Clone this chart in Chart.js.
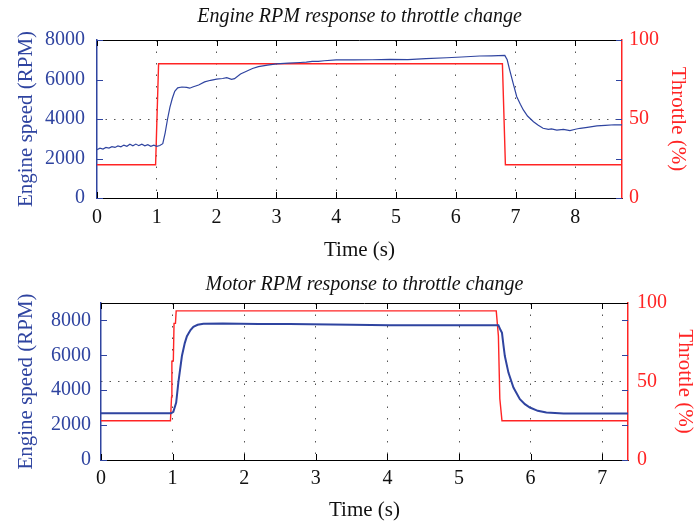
<!DOCTYPE html>
<html>
<head>
<meta charset="utf-8">
<script src="https://cdn.jsdelivr.net/npm/chart.js@4.4.1/dist/chart.umd.min.js"></script>
<style>
  html, body { margin: 0; padding: 0; background: #fff; overflow: hidden; }
  body { width: 694px; height: 521px; position: relative; }
  .box { position: absolute; left: 0; }
</style>
</head>
<body>
<div class="box" style="top:0; width:694px; height:261px;"><canvas id="engineChart"></canvas></div>
<div class="box" style="top:261px; width:700px; height:260px;"><canvas id="motorChart"></canvas></div>
<script>
// top panel: engine
const engineTime = [0, 0.05, 0.1, 0.15, 0.2, 0.25, 0.3, 0.35, 0.4, 0.45, 0.5, 0.55, 0.6, 0.65, 0.7, 0.75, 0.8, 0.85, 0.9, 0.95,
  1.0, 1.05, 1.1, 1.14, 1.18, 1.22, 1.26, 1.3, 1.35, 1.42, 1.5, 1.55, 1.6, 1.7, 1.8, 1.9, 2.0, 2.1, 2.17, 2.25, 2.3, 2.4,
  2.5, 2.6, 2.7, 2.85, 3.0, 3.2, 3.4, 3.5, 3.6, 3.7, 3.8, 4.0, 4.3, 4.6, 4.9, 5.2, 5.5, 5.85, 6.1, 6.4, 6.6, 6.82, 6.86,
  6.9, 6.96, 7.02, 7.08, 7.13, 7.2, 7.3, 7.38, 7.46, 7.55, 7.6, 7.69, 7.8, 7.91, 8.0, 8.08, 8.2, 8.36, 8.5, 8.65, 8.78];
const engineRpm = [2450, 2520, 2480, 2560, 2530, 2600, 2560, 2640, 2590, 2680, 2620, 2720, 2640, 2730, 2650, 2720, 2640, 2700, 2620, 2680,
  2620, 2660, 2750, 3300, 4000, 4600, 5050, 5400, 5580, 5620, 5600, 5560, 5620, 5720, 5880, 5960, 6020, 6050, 6090, 6010, 6040, 6280,
  6420, 6560, 6650, 6730, 6790, 6830, 6860, 6880, 6920, 6920, 6950, 6990, 6990, 7000, 7020, 7010, 7060, 7100, 7140, 7190, 7200, 7220, 7000,
  6500, 5800, 5130, 4750, 4460, 4150, 3860, 3680, 3530, 3480, 3500, 3440, 3470, 3410, 3480, 3530, 3580, 3650, 3680, 3710, 3700];
const throttleTime1 = [0, 0.98, 1.03, 6.78, 6.83, 8.78];
const throttle1 = [21, 21, 85, 85, 21, 21];

// bottom panel: motor
const motorTime = [0, 0.98, 1.01, 1.05, 1.08, 1.13, 1.17, 1.2, 1.25, 1.29, 1.35, 1.43, 1.7, 2.2, 2.63, 3.5, 4.03, 5.55,
  5.58, 5.6, 5.62, 5.64, 5.69, 5.76, 5.85, 5.92, 5.99, 6.1, 6.22, 6.46, 7.36];
const motorRpm = [2680, 2680, 2760, 3290, 4440, 5960, 6700, 7100, 7450, 7640, 7750, 7810, 7830, 7800, 7790, 7750, 7730, 7730,
  7450, 7290, 6600, 5960, 5010, 4150, 3490, 3200, 3010, 2820, 2720, 2670, 2670];
const throttleTime2 = [0, 0.97, 0.985, 0.99, 1.01, 1.02, 1.04, 1.05, 5.52, 5.55, 5.57, 5.6, 7.36];
const throttle2 = [25, 25, 40, 63, 63, 87, 87, 95, 95, 79, 39, 25, 25];

// tick labels
const rpmTicks = [0, 2000, 4000, 6000, 8000];
const throttleTicks = [0, 50, 100];

const BLUE = '#2f44a0';
const RED = '#ff2424';
const SERIF = '"Liberation Serif", "DejaVu Serif", serif';

const pts = (xs, ys) => xs.map((x, i) => ({x: x, y: ys[i]}));
const setTicks = vals => s => { s.ticks = vals.map(v => ({value: v})); };
const plain = v => String(v);

// matlab-ish frame: black top line, inward tick marks on all sides
const frameTicks = {
  id: 'frameTicks',
  afterDraw(chart) {
    const {ctx, chartArea: a, scales} = chart;
    ctx.save();
    ctx.lineWidth = 1;
    ctx.strokeStyle = '#000';
    ctx.beginPath();
    ctx.moveTo(a.left, a.top + 0.5);
    ctx.lineTo(a.right, a.top + 0.5);
    scales.x.ticks.forEach(t => {
      const px = Math.round(scales.x.getPixelForValue(t.value)) + 0.5;
      ctx.moveTo(px, a.bottom); ctx.lineTo(px, a.bottom - 6);
      ctx.moveTo(px, a.top); ctx.lineTo(px, a.top + 6);
    });
    ctx.stroke();
    ctx.strokeStyle = BLUE;
    ctx.beginPath();
    scales.y.ticks.forEach(t => {
      const py = Math.round(scales.y.getPixelForValue(t.value)) + 0.5;
      ctx.moveTo(a.left, py); ctx.lineTo(a.left + 6, py);
      ctx.moveTo(a.right, py); ctx.lineTo(a.right - 6, py);
    });
    ctx.stroke();
    ctx.restore();
  }
};

function makeChart(id, cfg) {
  const dotted = (v) => (v === 0 || v === cfg.xMax || v === 100) ? 'rgba(0,0,0,0)' : '#555';
  return new Chart(document.getElementById(id), {
    type: 'line',
    data: {
      datasets: [
        { data: pts(cfg.rpmT, cfg.rpm), borderColor: BLUE, borderWidth: cfg.blueWidth, yAxisID: 'y' },
        { data: pts(cfg.thT, cfg.th), borderColor: RED, borderWidth: 1.4, yAxisID: 'y1' }
      ]
    },
    options: {
      responsive: true,
      maintainAspectRatio: false,
      animation: false,
      elements: { point: { radius: 0 }, line: { tension: 0 } },
      layout: { padding: 0, autoPadding: false },
      plugins: {
        legend: { display: false },
        tooltip: { enabled: false }
      },
      scales: {
        // top axis only carries the panel title, centred over the plot area
        xTop: {
          type: 'linear', position: 'top',
          min: 0, max: cfg.xMax,
          afterFit: s => { s.height = cfg.topH; },
          ticks: { display: false },
          grid: { display: false, drawTicks: false },
          border: { display: false },
          title: { display: true, text: cfg.title, color: '#111', padding: { top: cfg.titleTop, bottom: 0 },
                   font: { family: SERIF, size: 20, style: 'italic', lineHeight: 1.2 } }
        },
        x: {
          type: 'linear', position: 'bottom',
          min: 0, max: cfg.xMax,
          afterFit: s => { s.height = cfg.xHeight; },
          ticks: { stepSize: 1, includeBounds: false, color: '#111', padding: cfg.xTickPad,
                   font: { family: SERIF, size: 20 } },
          grid: { color: c => dotted(c.tick.value), lineWidth: 1, drawTicks: false },
          border: { color: '#000', width: 1, dash: [1.5, 10] },
          title: { display: true, text: 'Time (s)', color: '#111', padding: { top: 0, bottom: 0.5 },
                   font: { family: SERIF, size: 21, lineHeight: 1.0 } }
        },
        y: {
          position: 'left',
          min: 0, max: cfg.yMax,
          afterFit: s => { s.width = cfg.leftW; },
          afterBuildTicks: setTicks(rpmTicks),
          ticks: { color: BLUE, padding: cfg.yTickPad, callback: plain,
                   font: { family: SERIF, size: 20 } },
          grid: { display: false, drawTicks: false },
          border: { color: BLUE, width: 1.5 },
          title: { display: true, text: 'Engine speed (RPM)', color: BLUE, padding: { top: 13.4, bottom: 0 },
                   font: { family: SERIF, size: 21, lineHeight: 1.2 } }
        },
        y1: {
          position: 'right',
          min: 0, max: 100,
          afterFit: s => { s.width = cfg.rightW; },
          afterBuildTicks: setTicks(throttleTicks),
          ticks: { color: RED, padding: cfg.y1TickPad, callback: plain, font: { family: SERIF, size: 20 } },
          grid: { color: c => dotted(c.tick.value), lineWidth: 1, drawTicks: false },
          border: { color: RED, width: 1.5, dash: [1.5, 7] },
          title: { display: true, text: 'Throttle (%)', color: RED, padding: { top: cfg.rightTitlePad, bottom: 0 },
                   font: { family: SERIF, size: 21, lineHeight: 1.2 } }
        }
      }
    },
    plugins: [frameTicks]
  });
}

makeChart('engineChart', {
  title: 'Engine RPM response to throttle change',
  rpmT: engineTime, rpm: engineRpm, thT: throttleTime1, th: throttle1,
  xMax: 8.78, yMax: 8000, blueWidth: 1.2,
  topH: 40, titleTop: 5,
  xHeight: 63, xTickPad: 8, leftW: 97, rightW: 72,
  yTickPad: 12, y1TickPad: 7, rightTitlePad: 3.4
});

makeChart('motorChart', {
  title: 'Motor RPM response to throttle change',
  rpmT: motorTime, rpm: motorRpm, thT: throttleTime2, th: throttle2,
  xMax: 7.36, yMax: 9000, blueWidth: 2,
  topH: 42, titleTop: 12,
  xHeight: 61, xTickPad: 7, leftW: 101, rightW: 72,
  yTickPad: 10, y1TickPad: 9, rightTitlePad: 2.4
});
</script>
</body>
</html>
